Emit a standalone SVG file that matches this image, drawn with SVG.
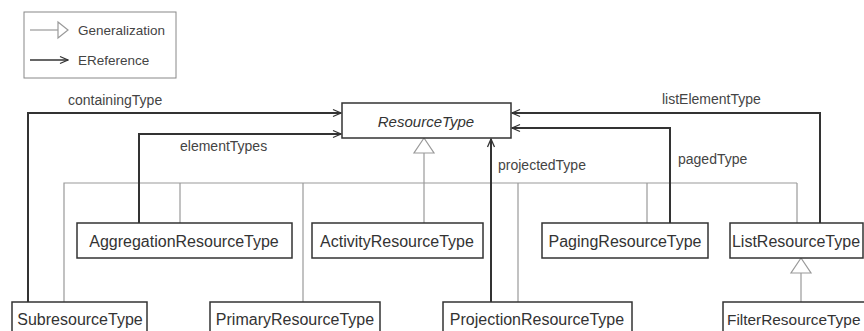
<svg xmlns="http://www.w3.org/2000/svg" width="864" height="331" viewBox="0 0 864 331">
<style>
.node rect{fill:#fff;stroke:#333;stroke-width:1.5}
.node text{font-family:"Liberation Sans",Arial,sans-serif;font-size:16px;fill:#333;text-anchor:middle;dominant-baseline:central}
.lbl{font-family:"Liberation Sans",Arial,sans-serif;font-size:14px;fill:#444;dominant-baseline:central}
.ref{fill:none;stroke:#333;stroke-width:2}
.gen{fill:none;stroke:#999;stroke-width:1.2}
.tri{fill:#fff;stroke:#999;stroke-width:1.2}
</style>
<defs>
<marker id="arr" markerWidth="10" markerHeight="10" refX="9" refY="5" orient="auto" markerUnits="userSpaceOnUse">
<polyline points="1,1.5 9,5 1,8.5" fill="none" stroke="#333" stroke-width="1.3"/>
</marker>
</defs>
<rect width="864" height="331" fill="#fff"/>
<g id="legend">
<rect x="24" y="12" width="152" height="66" fill="#fff" stroke="#888" stroke-width="1"/>
<line x1="30" y1="30" x2="58" y2="30" class="gen"/>
<polygon points="58,22 68,30 58,38" class="tri"/>
<text x="78" y="30" class="lbl" style="font-size:13.5px">Generalization</text>
<line x1="30" y1="60" x2="68" y2="60" stroke="#333" stroke-width="1.5" marker-end="url(#arr)"/>
<text x="78" y="60" class="lbl" style="font-size:13.5px">EReference</text>
</g>
<g id="connectors">
<polyline class="gen" points="64,302 64,183 797,183"/>
<line class="gen" x1="180" y1="183" x2="180" y2="223"/>
<line class="gen" x1="303" y1="183" x2="303" y2="302"/>
<line class="gen" x1="424" y1="153" x2="424" y2="223"/>
<line class="gen" x1="518" y1="183" x2="518" y2="302"/>
<line class="gen" x1="647" y1="183" x2="647" y2="223"/>
<line class="gen" x1="797" y1="183" x2="797" y2="223"/>
<polygon class="tri" points="424,138 414,153 434,153"/>
<line class="gen" x1="801" y1="273" x2="801" y2="302"/>
<polygon class="tri" points="801,258 791,273 811,273"/>
<polyline class="ref" points="28,302 28,113 341,113" marker-end="url(#arr)"/>
<polyline class="ref" points="139,223 139,134 341,134" marker-end="url(#arr)"/>
<polyline class="ref" points="491,302 491,139" marker-end="url(#arr)"/>
<polyline class="ref" points="670,223 670,128 512,128" marker-end="url(#arr)"/>
<polyline class="ref" points="820,223 820,113 512,113" marker-end="url(#arr)"/>
<text class="lbl" x="68" y="100">containingType</text>
<text class="lbl" x="180" y="146">elementTypes</text>
<text class="lbl" x="498" y="165">projectedType</text>
<text class="lbl" x="678" y="159">pagedType</text>
<text class="lbl" x="662" y="99">listElementType</text>
</g>
<g id="ResourceType" class="node"><rect x="342" y="103" width="169" height="35"/><text x="426" y="121" style="font-style:italic;font-size:15px">ResourceType</text></g>
<g id="AggregationResourceType" class="node"><rect x="77" y="223" width="215" height="35"/><text x="184" y="241">AggregationResourceType</text></g>
<g id="ActivityResourceType" class="node"><rect x="312" y="223" width="171" height="35"/><text x="397" y="241">ActivityResourceType</text></g>
<g id="PagingResourceType" class="node"><rect x="542" y="223" width="166" height="35"/><text x="625" y="241">PagingResourceType</text></g>
<g id="ListResourceType" class="node"><rect x="730" y="223" width="133" height="35"/><text x="796" y="241">ListResourceType</text></g>
<g id="SubresourceType" class="node"><rect x="12" y="302" width="135" height="40"/><text x="80" y="319">SubresourceType</text></g>
<g id="PrimaryResourceType" class="node"><rect x="210" y="302" width="170" height="40"/><text x="295" y="319">PrimaryResourceType</text></g>
<g id="ProjectionResourceType" class="node"><rect x="443" y="302" width="189" height="40"/><text x="537" y="319">ProjectionResourceType</text></g>
<g id="FilterResourceType" class="node"><rect x="723" y="302" width="160" height="40"/><text x="727" y="319" style="text-anchor:start;font-size:15.4px">FilterResourceType</text></g>
</svg>
